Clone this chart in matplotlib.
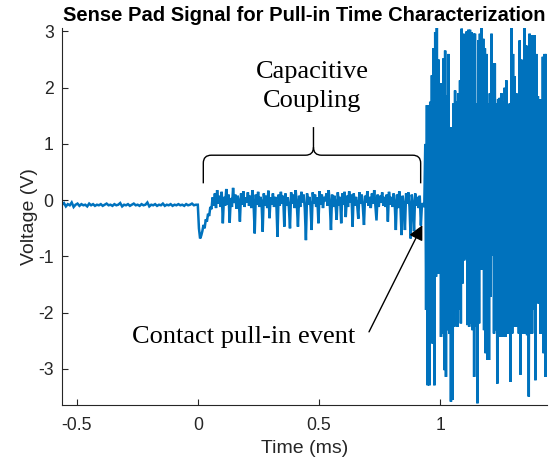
import numpy as np
import matplotlib
matplotlib.use("Agg")
import matplotlib.pyplot as plt
from matplotlib.path import Path
from matplotlib.patches import PathPatch

# ---------------- data ----------------
# pre-trigger baseline, -0.56 .. 0 ms
t_base_start, t_base_end = -0.56, 0.0
v_base = [-0.08, -0.05, -0.11, -0.07, -0.09, -0.04, -0.12, -0.08, -0.06, -0.10,
          -0.07, -0.09, -0.08, -0.11, -0.06, -0.09, -0.07, -0.10, -0.08, -0.09,
          -0.07, -0.10, -0.08, -0.06, -0.09, -0.08, -0.10, -0.07, -0.09, -0.08,
          -0.05, -0.11, -0.08, -0.09, -0.07, -0.10, -0.08, -0.06, -0.09, -0.08,
          -0.10, -0.07, -0.09, -0.08, -0.04, -0.11, -0.08, -0.09, -0.07, -0.10,
          -0.08, -0.09, -0.06, -0.10, -0.08, -0.09, -0.07, -0.10, -0.08, -0.09,
          -0.07, -0.09, -0.08, -0.10, -0.07, -0.09, -0.08, -0.06, -0.09, -0.08]

# capacitive coupling segment, 0 .. 0.934 ms
t_coup_start, t_coup_end = 0.0, 0.934
v_coup = [-0.08, -0.50, -0.68, -0.63, -0.55, -0.44, -0.50, -0.34, -0.38, -0.24,
          -0.28, -0.12, -0.16, 0.05, -0.10, 0.12, -0.14, 0.18, -0.06, 0.08,
          -0.12, 0.15, -0.41, 0.06, -0.10, 0.20, -0.08, 0.10, -0.40, 0.04,
          -0.12, 0.22, -0.05, 0.10, -0.15, 0.08, -0.02, -0.38, 0.12, -0.08,
          0.16, -0.12, 0.05, -0.04, 0.14, -0.10, 0.08, -0.14, 0.18, -0.06,
          -0.59, 0.10, -0.08, 0.15, -0.12, 0.06, -0.03, -0.56, 0.12, -0.10,
          0.08, -0.14, 0.17, -0.32, 0.05, -0.08, 0.12, -0.12, 0.06, -0.04,
          -0.65, 0.10, -0.10, 0.15, -0.06, 0.08, -0.47, 0.12, -0.10, 0.05,
          -0.12, -0.50, 0.14, -0.06, 0.10, -0.14, 0.18, -0.08, -0.47, 0.08,
          -0.12, 0.15, -0.04, 0.10, -0.15, -0.71, 0.12, -0.08, 0.06, -0.10,
          -0.53, 0.14, -0.06, 0.10, -0.12, 0.05, -0.41, 0.16, -0.08, 0.10,
          -0.14, 0.06, -0.02, 0.12, -0.10, 0.18, -0.08, -0.53, 0.10, -0.12,
          0.08, -0.06, -0.35, 0.14, -0.10, 0.06, -0.41, 0.12, -0.08, 0.15,
          -0.30, 0.08, -0.12, 0.16, -0.04, 0.10, -0.47, 0.12, -0.10, 0.06,
          -0.08, -0.33, 0.14, -0.06, 0.10, -0.12, -0.44, 0.08, -0.04, 0.16,
          -0.10, 0.06, -0.14, 0.12, -0.06, 0.18, -0.08, -0.36, 0.10, -0.12,
          0.08, -0.04, 0.14, -0.10, 0.06, -0.12, 0.10, -0.38, 0.15, -0.08,
          0.06, -0.12, 0.12, -0.06, -0.53, 0.10, -0.14, 0.16, -0.08, -0.62,
          0.08, -0.10, -0.53, 0.12, -0.06, 0.14, -0.12, -0.68, 0.10, -0.08,
          -0.55, 0.12, -0.10, 0.06, -0.14, 0.08, -0.45, -0.05, -0.12, -0.08]

# pull-in event: alternating peak / trough values, 0.938 .. 1.44 ms
t_evt_start, t_evt_end = 0.938, 1.44
v_evt_peaks = [1.00, 1.69, 1.69, 1.75, 2.22, 2.70, 2.99, 3.08, 2.50, 2.08,
               2.08, 2.52, 2.66, 1.86, 2.60, 1.30, 1.30, 1.72, 1.95, 1.76,
               1.90, 2.13, 3.05, 2.96, 2.84, 3.00, 3.03, 3.03, 2.99, 2.96,
               2.96, 1.72, 2.84, 2.96, 3.08, 2.87, 2.70, 2.60, 1.72, 1.90,
               2.96, 2.43, 2.43, 1.72, 1.80, 1.82, 1.90, 1.76, 2.00, 2.13,
               1.66, 1.72, 3.08, 2.60, 2.20, 1.90, 1.66, 2.84, 2.50, 2.43,
               3.08, 2.75, 1.66, 2.96, 2.93, 2.93, 2.93, 2.60, 1.85, 1.79,
               1.79, 2.55, 2.60, 2.60]
v_evt_troughs = [-1.95, -3.29, -3.29, -1.95, -2.55, -3.29, -1.36, -1.30, -1.30, -2.43,
                 -2.37, -3.02, -3.14, -2.31, -2.37, -3.58, -3.55, -2.25, -1.95, -2.25,
                 -1.95, -2.19, -1.48, -1.07, -1.04, -2.22, -2.25, -2.19, -2.31, -3.14,
                 -2.25, -3.61, -2.19, -1.24, -1.24, -2.31, -2.72, -2.84, -2.84, -1.72,
                 -0.98, -2.37, -2.31, -3.26, -2.37, -2.43, -2.43, -2.37, -2.43, -2.37,
                 -2.37, -3.23, -2.37, -2.25, -2.25, -2.25, -2.37, -3.10, -2.37, -2.37,
                 -2.37, -2.40, -3.49, -2.37, -2.37, -1.95, -3.20, -0.95, -1.84, -2.37,
                 -2.37, -2.72, -3.14, -2.19]

x_ticks = [-0.5, 0, 0.5, 1]
x_ticklabels = ["-0.5", "0", "0.5", "1"]
y_ticks = [-3, -2, -1, 0, 1, 2, 3]
y_ticklabels = ["-3", "-2", "-1", "0", "1", "2", "3"]

# ---------------- assemble series ----------------
t_base = np.linspace(t_base_start, t_base_end, len(v_base), endpoint=False)
t_coup = np.linspace(t_coup_start, t_coup_end, len(v_coup))
v_evt = np.ravel(np.column_stack([v_evt_peaks, v_evt_troughs]))
t_evt = np.linspace(t_evt_start, t_evt_end, len(v_evt))
t = np.concatenate([t_base, t_coup, t_evt])
v = np.concatenate([v_base, v_coup, v_evt])

# ---------------- figure ----------------
SANS = ["Liberation Sans", "DejaVu Sans"]
SERIF = ["Liberation Serif", "DejaVu Serif"]
AX_COL = "#262626"

fig = plt.figure(figsize=(5.53, 4.66), dpi=100)
ax = fig.add_axes([62 / 553, 61 / 466, 485 / 553, 377.5 / 466])
ax.plot(t, v, color="#0072BD", lw=1.8, solid_joinstyle="miter")

ax.set_xlim(-0.56, 1.44)
ax.set_ylim(-3.64, 3.07)
ax.set_xticks(x_ticks)
ax.set_xticklabels(x_ticklabels)
ax.set_yticks(y_ticks)
ax.set_yticklabels(y_ticklabels)
for s in ["top", "right"]:
    ax.spines[s].set_visible(False)
for s in ["left", "bottom"]:
    ax.spines[s].set_color(AX_COL)
    ax.spines[s].set_linewidth(0.8)
ax.tick_params(direction="in", length=4, width=0.8, color=AX_COL,
               labelcolor=AX_COL, labelsize=12.7)
ax.tick_params(axis="x", pad=9)
ax.tick_params(axis="y", pad=6)
for lab in ax.get_xticklabels() + ax.get_yticklabels():
    lab.set_family(SANS)

ax.set_xlabel("Time (ms)", fontsize=14, color=AX_COL, family=SANS, labelpad=4)
ax.set_ylabel("Voltage (V)", fontsize=14, color=AX_COL, family=SANS, labelpad=0)
fig.text(304.5 / 553, 1 - 21 / 466,
         "Sense Pad Signal for Pull-in Time Characterization",
         ha="center", va="baseline", fontsize=14.5, fontweight="bold",
         color="black", family=SANS)

# ---------------- annotations ----------------
ax.text(0.472, 2.179, "Capacitive", ha="center", va="baseline",
        fontsize=19, family=SERIF, color="black")
ax.text(0.472, 1.657, "Coupling", ha="center", va="baseline",
        fontsize=19, family=SERIF, color="black")

xl, xr, xc = 0.0227, 0.919, 0.477
yb, yh, yt = 0.30, 0.80, 1.30
dx, dy = 0.033, 0.14
verts = [(xl, yb), (xl, yh - dy), (xl, yh), (xl + dx, yh), (xc - dx, yh),
         (xc, yh), (xc, yh + dy), (xc, yt),
         (xr, yb), (xr, yh - dy), (xr, yh), (xr - dx, yh), (xc + dx, yh),
         (xc, yh), (xc, yh + dy)]
codes = [Path.MOVETO, Path.LINETO, Path.CURVE3, Path.CURVE3, Path.LINETO,
         Path.CURVE3, Path.CURVE3, Path.LINETO,
         Path.MOVETO, Path.LINETO, Path.CURVE3, Path.CURVE3, Path.LINETO,
         Path.CURVE3, Path.CURVE3]
ax.add_patch(PathPatch(Path(verts, codes), fill=False, edgecolor="black",
                       lw=1.0, clip_on=False))

ax.text(0.189, -2.546, "Contact pull-in event", ha="center", va="baseline",
        fontsize=19, family=SERIF, color="black")
ax.annotate("", xy=(0.926, -0.444), xytext=(0.706, -2.34),
            arrowprops=dict(arrowstyle="-|>", color="black", lw=1.0,
                            mutation_scale=22, shrinkA=0, shrinkB=0))

fig.savefig("out.png", dpi=100)
